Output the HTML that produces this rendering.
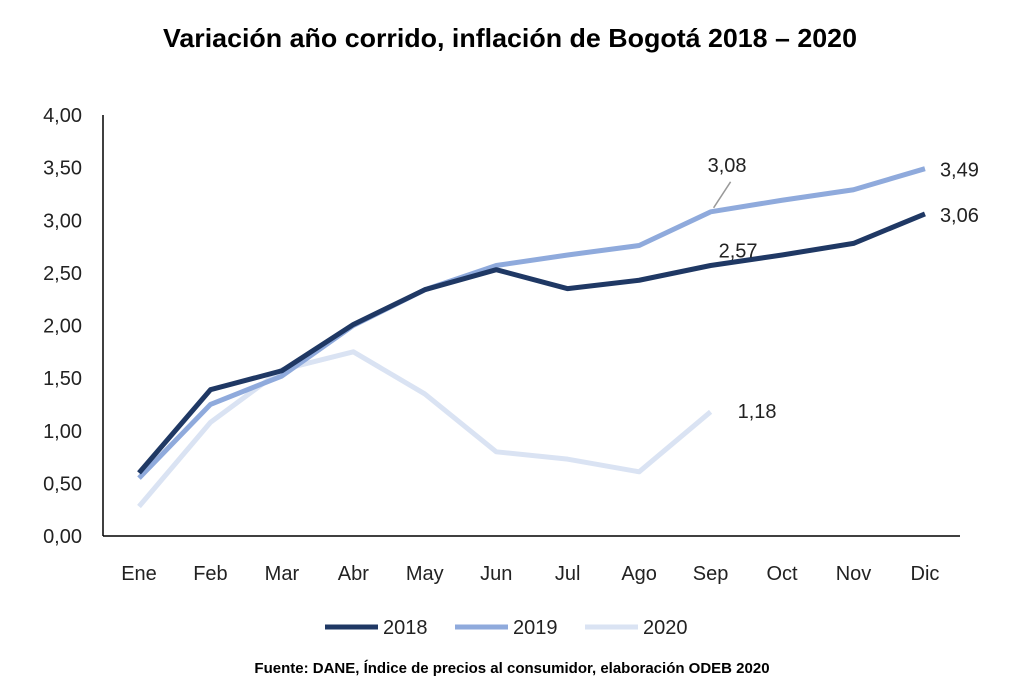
<!DOCTYPE html>
<html><head><meta charset="utf-8"><style>
body{margin:0;background:#fff;width:1024px;height:690px;overflow:hidden;font-family:"Liberation Sans",sans-serif}
</style></head><body>
<svg id="c" width="1024" height="690" xmlns="http://www.w3.org/2000/svg" font-family="Liberation Sans, sans-serif">
<text x="510" y="47" text-anchor="middle" font-size="26" font-weight="bold" fill="#000" textLength="694" lengthAdjust="spacingAndGlyphs">Variación año corrido, inflación de Bogotá 2018 – 2020</text>
<g id="axes"></g><g id="lines"></g><g id="labels"></g>
<g font-size="20" fill="#222">
<line x1="325" y1="627" x2="378" y2="627" stroke="#1f3864" stroke-width="5"/><text x="383" y="634">2018</text>
<line x1="455" y1="627" x2="508" y2="627" stroke="#8faadc" stroke-width="5"/><text x="513" y="634">2019</text>
<line x1="585" y1="627" x2="638" y2="627" stroke="#dae3f3" stroke-width="5"/><text x="643" y="634">2020</text>
</g>
<text x="512" y="673" text-anchor="middle" font-size="15" font-weight="bold">Fuente: DANE, Índice de precios al consumidor, elaboración ODEB 2020</text>
</svg>
<script>
const months=["Ene","Feb","Mar","Abr","May","Jun","Jul","Ago","Sep","Oct","Nov","Dic"];
const s2018=[0.60,1.39,1.57,2.01,2.34,2.53,2.35,2.43,2.57,2.67,2.78,3.06];
const s2019=[0.55,1.25,1.52,2.00,2.34,2.57,2.67,2.76,3.08,3.19,3.29,3.49];
const s2020=[0.28,1.08,1.58,1.75,1.35,0.80,0.73,0.61,1.18];
const yTicks=[0,0.5,1,1.5,2,2.5,3,3.5,4];
const NS="http://www.w3.org/2000/svg";
const x=i=>139+i*71.45, y=v=>536-v*105.25;
function mk(t,a,p){const e=document.createElementNS(NS,t);for(const k in a)e.setAttribute(k,a[k]);p.appendChild(e);return e;}
const ax=document.getElementById('axes'),ln=document.getElementById('lines'),lb=document.getElementById('labels');
const ya=mk('line',{x1:103,y1:y(4),x2:103,y2:536,stroke:'#000','stroke-width':1.5},ax);


const xa=mk('line',{x1:103,y1:536,x2:960,y2:536,stroke:'#000','stroke-width':1.5},ax);


yTicks.forEach(v=>{const t=mk('text',{x:82,y:y(v)+7,'text-anchor':'end','font-size':20,fill:'#222'},ax);t.textContent=v.toFixed(2).replace('.',',');

});
months.forEach((m,i)=>{const t=mk('text',{x:x(i),y:580,'text-anchor':'middle','font-size':20,fill:'#222'},ax);t.textContent=m;

});
function series(d,c,n){const p=mk('polyline',{points:d.map((v,i)=>x(i)+','+y(v)).join(' '),fill:'none',stroke:c,'stroke-width':5,'stroke-linejoin':'round'},ln);

}
series(s2020,'#dae3f3','line-2020');
series(s2019,'#8faadc','line-2019');
series(s2018,'#1f3864','line-2018');
function lab(tx,xx,yy,n){const t=mk('text',{x:xx,y:yy,'font-size':20,fill:'#222'},lb);t.textContent=tx;

}
const f=v=>v.toFixed(2).replace('.',',');
lab(f(s2019[11]),x(11)+15,y(s2019[11])+8,'label-2019-dic');
lab(f(s2018[11]),x(11)+15,y(s2018[11])+8,'label-2018-dic');
lab(f(s2019[8]),x(8)-3,y(s2019[8])-40,'label-2019-sep');
mk('line',{x1:x(8)+3,y1:y(s2019[8])-4,x2:x(8)+20,y2:y(s2019[8])-30,stroke:'#999','stroke-width':1.5},lb);
lab(f(s2018[8]),x(8)+8,y(s2018[8])-8,'label-2018-sep');
lab(f(s2020[8]),x(8)+27,y(s2020[8])+6,'label-2020-sep');
</script>
</body></html>
